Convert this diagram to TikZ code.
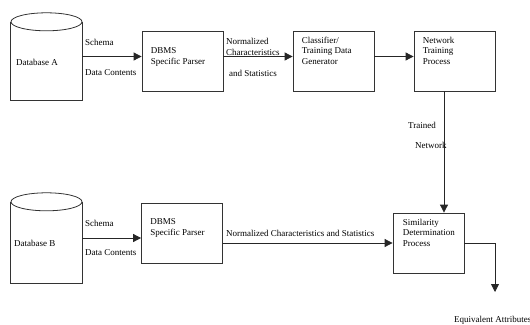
\documentclass[tikz,border=0pt]{standalone}
\usepackage{fontspec}
\setmainfont{Liberation Serif}
\usetikzlibrary{arrows.meta,positioning}
\begin{document}
\begin{tikzpicture}[x=1pt, y=-1pt, every node/.style={font=\fontsize{9}{10.5}\selectfont, inner sep=0pt},
  blk/.style={draw=black!80, line width=0.8pt, minimum width=81pt, minimum height=60pt},
  db/.style={minimum width=71pt},
  txt/.style={align=left, anchor=west},
  inbox/.style={align=left},
  arr/.style={-{Triangle[length=8pt,width=8pt]}, line width=0.8pt, black!85}]
  \useasboundingbox (0,0) rectangle (530,324);
  % databases
  \node[db, minimum height=87pt] (dbA) at (46.5,56.5) {};
  \node[db, minimum height=90pt] (dbB) at (46.5,238) {};
  \foreach \d in {dbA,dbB} {
    \draw[line width=0.8pt, black!80] ([yshift=-9pt]\d.north west) -- (\d.south west) -- (\d.south east) -- ([yshift=-9pt]\d.north east);
    \draw[line width=0.8pt, black!80] ([yshift=-9pt]\d.north) ellipse [x radius=35.5pt, y radius=9pt];
  }
  \node[txt] (dbAt) at (16,62) {Database A};
  \node[txt] (dbBt) at (14,243) {Database B};
  % boxes
  \node[blk] (pA) at (182.5,61) {};
  \node[blk] (cls) at (333.5,61) {};
  \node[blk] (net) at (454.5,61) {};
  \node[blk] (pB) at (182,233) {};
  \node[blk, minimum width=71pt] (sim) at (428.5,243) {};
  \node[inbox, below right=17pt and 9pt of pA.north west] (pAt) {DBMS\\Specific Parser};
  \node[inbox, below right=6pt and 9pt of cls.north west] (clst) {Classifier/\\Training Data\\Generator};
  \node[inbox, below right=6pt and 9pt of net.north west] (nett) {Network\\Training\\Process};
  \node[inbox, below right=16pt and 9pt of pB.north west] (pBt) {DBMS\\Specific Parser};
  \node[inbox, below right=6pt and 10pt of sim.north west] (simt) {Similarity\\Determination\\Process};
  \coordinate (attr) at (495,292);
  % connectors
  \draw[arr] (dbA.east) -- (dbA.east -| pA.west);
  \draw[arr] (pA.east |- dbA.east) -- (cls.west |- dbA.east);
  \draw[arr] (cls.east |- dbA.east) -- (net.west |- dbA.east);
  \draw[arr] ([xshift=-10.5pt]net.south) -- ([xshift=-10.5pt]net.south |- sim.north);
  \draw[arr] (dbB.east) -- (dbB.east -| pB.west);
  \draw[arr] (pB.east |- sim.west) -- (sim.west);
  \draw[arr] (sim.east) -| (attr);
  % labels
  \node[txt] (scA) at (85,42) {Schema};
  \node[txt] (dcA) at (85,73) {Data Contents};
  \node[txt] (ncA) at (226,47) {Normalized\\Characteristics};
  \node[txt] (asA) at (229,73) {and Statistics};
  \node[txt] (scB) at (85,223) {Schema};
  \node[txt] (dcB) at (85,253) {Data Contents};
  \node[txt] (ncB) at (226,233) {Normalized Characteristics and Statistics};
  \node[txt] (trn) at (408,125) {Trained};
  \node[txt] (nwk) at (415,145) {Network};
  \node[txt] (eqa) at (454,320) {Equivalent Attributes};
\end{tikzpicture}
\end{document}
